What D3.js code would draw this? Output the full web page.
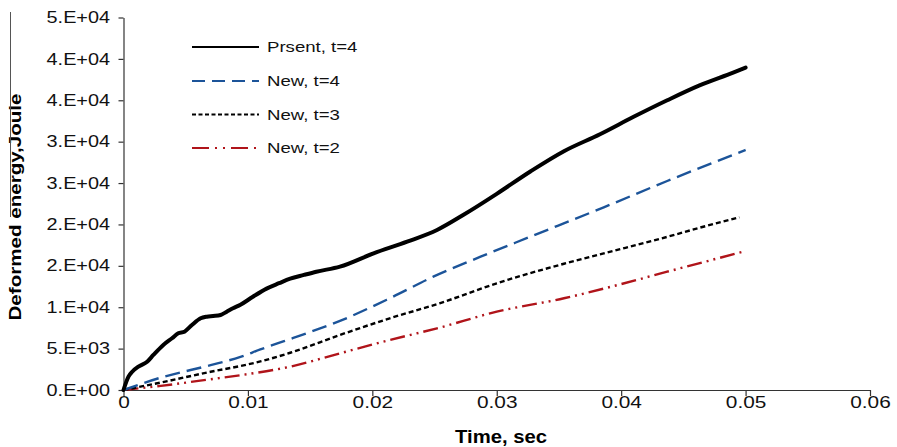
<!DOCTYPE html>
<html><head><meta charset="utf-8">
<script src="https://cdn.jsdelivr.net/npm/d3@7"></script>
<style>
html,body{margin:0;padding:0;background:#fff;}
svg{display:block;font-family:"Liberation Sans",Arial,sans-serif;}
</style></head>
<body>
<svg id="chart" width="897" height="447"></svg>
<script>
// ---- data ----
const seriesNames = ["Prsent, t=4", "New, t=4", "New, t=3", "New, t=2"];

const timePresent   = [0, 0.0004, 0.0007, 0.0012, 0.0019, 0.0024, 0.0032, 0.0039, 0.0044, 0.0049, 0.0055, 0.0062, 0.0067, 0.0072, 0.0078, 0.0083, 0.0088, 0.0094, 0.0104, 0.0115, 0.0125, 0.0134, 0.0145, 0.0155, 0.0174, 0.0201, 0.0228, 0.0252, 0.0273, 0.0300, 0.0327, 0.0354, 0.0383, 0.0410, 0.0437, 0.0463, 0.0490, 0.0500];
const energyPresent = [0, 1610, 2210, 2820, 3420, 4230, 5440, 6250, 6850, 7050, 7850, 8660, 8860, 8940, 9060, 9460, 9870, 10300, 11270, 12250, 12900, 13450, 13900, 14290, 14900, 16510, 17920, 19330, 21140, 23700, 26400, 28850, 30900, 33000, 35000, 36800, 38350, 38950];

const timeNew4   = [0, 0.003, 0.007, 0.0094, 0.011, 0.0129, 0.015, 0.0174, 0.0214, 0.0249, 0.0287, 0.0327, 0.0386, 0.0437, 0.0500];
const energyNew4 = [0, 1500, 3000, 4000, 4900, 5900, 7000, 8350, 11080, 13690, 16100, 18520, 22070, 25250, 29000];

const timeNew3   = [0, 0.003, 0.007, 0.0094, 0.011, 0.0134, 0.0174, 0.0214, 0.0254, 0.0300, 0.0354, 0.0386, 0.0437, 0.0463, 0.0495];
const energyNew3 = [0, 900, 2200, 2900, 3450, 4500, 6650, 8660, 10470, 12890, 15250, 16500, 18500, 19600, 20860];

const timeNew2   = [0, 0.003, 0.007, 0.0099, 0.0134, 0.0174, 0.0214, 0.0252, 0.0300, 0.0354, 0.0386, 0.0437, 0.0500];
const energyNew2 = [0, 500, 1300, 1900, 2820, 4430, 6040, 7450, 9460, 11080, 12250, 14290, 16790];

const xTickValues = [0, 0.01, 0.02, 0.03, 0.04, 0.05, 0.06];
const xTickLabels = ["0", "0.01", "0.02", "0.03", "0.04", "0.05", "0.06"];
const yTickValues = [0, 5000, 10000, 15000, 20000, 25000, 30000, 35000, 40000, 45000];
const yTickLabels = ["0.E+00", "5.E+03", "1.E+04", "2.E+04", "2.E+04", "3.E+04", "3.E+04", "4.E+04", "4.E+04", "5.E+04"];

const xTitle = "Time, sec";
const yTitle = "Deformed energy,Joule";

// ---- layout ----
const svg = d3.select("#chart");
const mLeft = 123.5, mRight = 870, mTop = 17.5, mBottom = 390;
const x = d3.scaleLinear().domain([0, 0.06]).range([mLeft, mRight]);
const y = d3.scaleLinear().domain([0, 45000]).range([mBottom, mTop]);

function stretch(sel, f) {
  sel.each(function() {
    const w = this.getComputedTextLength();
    d3.select(this).attr("textLength", w * f).attr("lengthAdjust", "spacingAndGlyphs");
  });
}

// axes
const yAxis = svg.append("g").attr("transform", `translate(${mLeft},0)`)
  .call(d3.axisLeft(y).tickValues(yTickValues).tickFormat((d, i) => yTickLabels[i]).tickSize(5).tickPadding(8.5).tickSizeOuter(0));
const xAxis = svg.append("g").attr("transform", `translate(0,${mBottom})`)
  .call(d3.axisBottom(x).tickValues(xTickValues).tickFormat((d, i) => xTickLabels[i]).tickSize(6).tickPadding(1).tickSizeOuter(0));

[yAxis, xAxis].forEach(g => {
  g.select(".domain").attr("stroke", "#333").attr("stroke-width", 1.2);
  g.selectAll(".tick line").attr("stroke", "#333").attr("stroke-width", 1.2);
  g.selectAll(".tick text").attr("fill", "#111").style("font-size", "16px").style("font-family", "'Liberation Sans', Arial, sans-serif");
});
stretch(yAxis.selectAll(".tick text"), 1.24);
stretch(xAxis.selectAll(".tick text"), 1.3);

// titles
const xt = svg.append("text").attr("x", 501).attr("y", 443).attr("text-anchor", "middle")
  .style("font-size", "18px").style("font-weight", "bold").attr("fill", "#000").text(xTitle);
xt.attr("textLength", 92).attr("lengthAdjust", "spacingAndGlyphs");
const yt = svg.append("text").attr("transform", "translate(21,207) rotate(-90)").attr("text-anchor", "middle")
  .style("font-size", "17px").style("font-weight", "bold").attr("fill", "#000").text(yTitle);
yt.attr("textLength", 227).attr("lengthAdjust", "spacingAndGlyphs");

// series
const styles = [
  {color: "#000000", width: 4,   dash: null},
  {color: "#1c5499", width: 2.4, dash: "15,7"},
  {color: "#000000", width: 2.4, dash: "5,3"},
  {color: "#b0141a", width: 2.4, dash: "15,5,2,5,2,5"}
];
const seriesData = [
  timePresent.map((t, i) => [t, energyPresent[i]]),
  timeNew4.map((t, i) => [t, energyNew4[i]]),
  timeNew3.map((t, i) => [t, energyNew3[i]]),
  timeNew2.map((t, i) => [t, energyNew2[i]])
];
const line = d3.line().x(d => x(d[0])).y(d => y(d[1])).curve(d3.curveMonotoneX);
for (let k = seriesData.length - 1; k >= 0; k--) {
  const s = styles[k];
  const p = svg.append("path").datum(seriesData[k]).attr("d", line)
    .attr("fill", "none").attr("stroke", s.color).attr("stroke-width", s.width)
    .attr("stroke-linejoin", "round").attr("stroke-linecap", k === 0 ? "round" : "butt");
  if (s.dash) p.attr("stroke-dasharray", s.dash);
}

// legend
const legendY = [47, 81, 114.5, 148];
seriesNames.forEach((name, k) => {
  const s = styles[k];
  const ly = legendY[k];
  const l = svg.append("line").attr("x1", 192).attr("x2", 259).attr("y1", ly).attr("y2", ly)
    .attr("stroke", s.color).attr("stroke-width", k === 0 ? 2.2 : 2);
  if (s.dash) l.attr("stroke-dasharray", k === 1 ? "13,7" : (k === 2 ? "4,2.5" : "17,6,2,6,2,6"));
  const t = svg.append("text").attr("x", 267).attr("y", ly).attr("dy", "0.35em")
    .style("font-size", "15px").attr("fill", "#111").text(name);
  stretch(t, 1.24);
});

// thin frame artifact at left
svg.append("line").attr("x1", 10.5).attr("x2", 10.5).attr("y1", 12).attr("y2", 217)
  .attr("stroke", "#555").attr("stroke-width", 1);
</script>
</body></html>
